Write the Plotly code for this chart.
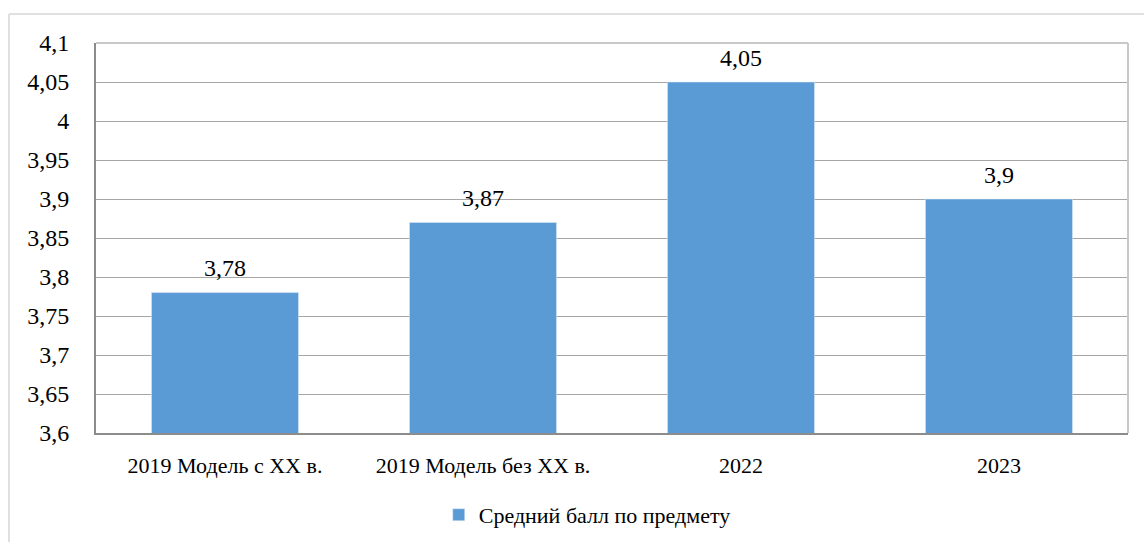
import plotly.graph_objects as go

categories = ["2019 Модель с XX в.", "2019 Модель без XX в.", "2022", "2023"]
scores = [3.78, 3.87, 4.05, 3.90]
score_labels = ["3,78", "3,87", "4,05", "3,9"]
series_name = "Средний балл по предмету"
y_ticks = [3.6, 3.65, 3.7, 3.75, 3.8, 3.85, 3.9, 3.95, 4.0, 4.05, 4.1]
y_tick_labels = ["3,6", "3,65", "3,7", "3,75", "3,8", "3,85", "3,9", "3,95", "4", "4,05", "4,1"]

FONT = "Liberation Serif, Times New Roman, serif"
BAR_COLOR = "#5B9BD5"

fig = go.Figure()
fig.add_trace(go.Bar(
    x=categories,
    y=scores,
    name=series_name,
    marker_color=BAR_COLOR,
    width=0.57,
    showlegend=True,
))
# value labels sitting above the bars (invisible markers set the offset)
fig.add_trace(go.Scatter(
    x=categories,
    y=scores,
    mode="markers+text",
    text=score_labels,
    textposition="top center",
    marker=dict(size=15, opacity=0),
    textfont=dict(family=FONT, size=24, color="black"),
    cliponaxis=False,
    showlegend=False,
    hoverinfo="skip",
))

# light frame of the plot area and outer border of the chart
fig.add_shape(type="line", xref="paper", yref="paper", x0=0, x1=1, y0=1, y1=1,
              line=dict(color="#c8c8c8", width=2))
fig.add_shape(type="line", xref="paper", yref="paper", x0=1, x1=1, y0=0, y1=1,
              line=dict(color="#c8c8c8", width=2))
fig.add_shape(type="line", xref="paper", yref="paper", x0=-0.0843, x1=1.1, y0=1.0744, y1=1.0744,
              line=dict(color="#d6d6d6", width=1.5))
fig.add_shape(type="line", xref="paper", yref="paper", x0=-0.0843, x1=-0.0843, y0=-0.4, y1=1.0744,
              line=dict(color="#d6d6d6", width=1.5))

fig.update_xaxes(type="category", showgrid=False, showline=True,
                 linecolor="#8c8c8c", linewidth=2,
                 ticks="outside", ticklen=12, tickcolor="white",
                 tickfont=dict(family=FONT, size=22, color="black"),
                 automargin=False)
fig.update_yaxes(range=[3.6, 4.1], tickvals=y_ticks, ticktext=y_tick_labels,
                 showgrid=True, gridcolor="#a6a6a6", gridwidth=1,
                 showline=True, linecolor="#8c8c8c", linewidth=2,
                 zeroline=False,
                 ticks="outside", ticklen=20, tickcolor="white",
                 tickfont=dict(family=FONT, size=24, color="black"),
                 automargin=False)
fig.update_layout(
    width=1144, height=542,
    margin=dict(l=96, r=16, t=43, b=109, autoexpand=False),
    paper_bgcolor="white",
    plot_bgcolor="white",
    font=dict(family=FONT, size=22, color="black"),
    bargap=0.43,
    legend=dict(orientation="h", x=0.476, xanchor="center",
                yref="container", y=0.05, yanchor="middle",
                font=dict(family=FONT, size=22, color="black")),
)
fig.write_html("out.html")
